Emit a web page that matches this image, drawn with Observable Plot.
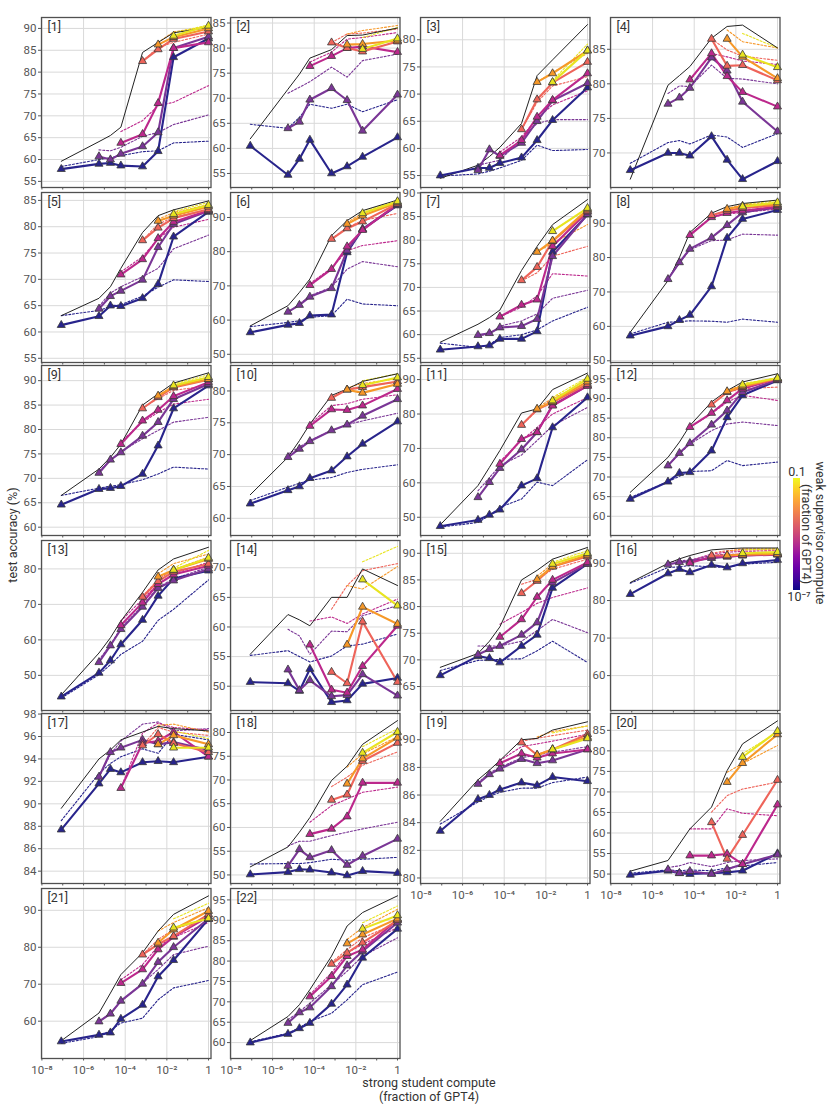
<!DOCTYPE html>
<html><head><meta charset="utf-8">
<script src="https://cdn.jsdelivr.net/npm/d3@7"></script>
<script src="https://cdn.jsdelivr.net/npm/@observablehq/plot@0.6"></script>
<style>
body{margin:0;background:#fff;}
#root{position:relative;width:831px;height:1110px;overflow:hidden;font-family:Roboto,sans-serif;background:#fff;}
.panel{position:absolute;}
.lab{position:absolute;font-size:12px;color:#333;white-space:nowrap;font-family:Roboto,sans-serif;}
</style></head><body><div id="root"></div>
<script>
// strong student compute (fraction of GPT4), read from the x positions
const studentCompute = [8.5e-8, 5.5e-6, 1.95e-5, 6.2e-5, 6.8e-4, 3.8e-3, 2.1e-2, 1];
// index of the student size used as each weak supervisor
const supervisorIndex = [0, 1, 3, 4, 5, 6];
// colours of the six weak supervisors (plasma-like, as seen in the figure)
const supervisorColors = ["#28248c", "#7a3696", "#bc288c", "#ee645a", "#f69828", "#e8e420"];
const xTickValues = [1e-8, 1e-6, 1e-4, 1e-2, 1];
const xTickLabels = ["10⁻⁸", "10⁻⁶", "10⁻⁴", "10⁻²", "1"];
const decadeTicks = [1e-8,1e-7,1e-6,1e-5,1e-4,1e-3,1e-2,1e-1,1];

// strong ceiling (black line), per panel
const ceiling = [
 [59.6,64.1,65.5,67.4,84.5,86.8,89.0,90.2],
 [61.9,71.8,74.8,78.0,79.7,82.5,82.6,84.0],
 [54.5,56.9,58.5,60.2,64.6,73.4,76.3,82.8],
 [66.2,79.8,81.2,82.5,86.6,88.3,88.5,85.2],
 [63.1,66.4,68.6,72.1,78.9,82.1,83.2,84.9],
 [58.3,64.2,68.1,72.0,84.7,89.1,92.0,95.1],
 [58.4,62.2,63.6,65.2,73.6,78.7,83.3,88.6],
 [58.3,73.3,80.0,87.3,92.9,94.8,95.7,96.7],
 [66.5,71.9,74.3,77.0,85.0,87.3,89.5,91.6],
 [63.7,69.6,72.2,74.8,79.3,80.3,81.5,82.7],
 [47.8,59.2,64.5,69.4,80.3,81.5,87.1,91.9],
 [66.1,75.0,78.9,83.1,89.1,92.0,94.2,96.3],
 [44.5,56.3,60.6,65.3,73.4,79.7,82.8,86.1],
 [55.4,62.1,61.2,60.2,65.0,65.0,69.8,67.0],
 [68.6,71.2,73.5,76.2,85.0,86.8,88.9,91.1],
 [84.8,89.9,91.1,92.0,93.5,93.8,94.0,94.0],
 [89.6,94.0,94.8,95.7,96.4,96.9,96.7,96.5],
 [51.7,55.9,59.0,62.1,69.9,72.9,77.5,82.5],
 [84.1,87.1,87.8,88.5,90.0,90.1,90.7,91.3],
 [50.7,53.3,57.3,61.0,66.3,75.2,81.7,87.3],
 [54.7,62.2,67.6,72.6,78.5,84.4,88.9,93.9],
 [60.5,66.4,69.3,73.0,81.2,88.6,91.9,96.0]
];

// weak-to-strong (solid lines with triangles): one list per supervisor, starting at the supervisor size
const w2s = [
 [[57.8,59.0,59.2,58.6,58.4,61.9,83.4,87.7],[60.7,60.0,61.3,63.0,66.2,85.5,88.1],[63.8,65.8,72.9,85.5,86.8],[82.5,85.2,87.6,89.3],[86.3,88.0,90.0],[88.3,90.6]],
 [[60.5,54.7,57.9,61.7,55.0,56.4,58.3,62.2],[64.0,65.3,69.7,72.0,69.6,63.5,70.7],[76.4,78.4,80.0,80.3,79.2],[81.1,80.0,79.3,81.3],[80.7,80.8,81.5],[79.8,81.9]],
 [[55.0,56.4,56.4,57.3,58.3,61.5,65.2,71.2],[56.0,59.8,58.6,61.0,65.0,68.8,72.0],[58.7,61.5,65.8,68.9,73.8],[63.5,69.0,72.1,75.9],[72.2,73.8,78.0],[72.2,78.0]],
 [[67.5,70.0,70.0,69.6,72.4,69.0,66.2,68.8],[77.1,78.0,79.4,83.8,81.9,77.4,73.1],[80.6,84.4,81.1,78.8,76.7],[86.5,82.6,82.7,80.5],[86.5,83.9,80.8],[84.2,82.4]],
 [[61.3,63.0,65.0,64.9,66.4,69.1,78.1,82.8],[64.4,66.8,67.8,69.9,76.1,80.5,83.0],[70.9,73.8,77.8,80.9,83.1],[77.4,79.8,81.6,83.3],[81.1,82.1,83.8],[82.4,84.1]],
 [[56.4,58.6,59.1,61.3,61.6,79.8,86.6,93.5],[62.4,64.4,66.8,69.3,80.3,86.6,93.7],[70.2,74.9,81.5,86.3,94.0],[83.7,86.8,88.8,94.0],[88.1,90.5,94.4],[91.2,94.7]],
 [[56.8,57.5,57.7,59.1,59.1,60.7,77.5,85.4],[59.9,60.3,61.5,61.8,63.3,76.6,85.5],[63.8,66.3,67.4,78.7,86.0],[71.5,74.3,79.8,86.2],[77.5,79.9,86.5],[81.9,86.8]],
 [[57.3,60.0,61.8,63.3,71.6,85.7,91.2,93.8],[73.7,78.6,82.5,85.8,89.4,93.1,94.6],[86.5,91.7,92.9,93.6,94.8],[92.3,93.6,94.4,95.2],[94.1,95.0,95.5],[94.8,96.0]],
 [[64.6,67.8,68.0,68.4,70.9,76.7,84.3,89.0],[71.1,73.8,75.3,78.7,81.5,86.2,89.3],[77.0,81.8,84.0,86.8,89.7],[84.3,86.6,88.6,90.2],[86.9,88.8,90.3],[89.0,90.7]],
 [[62.3,64.4,65.0,66.3,67.5,69.7,71.7,75.2],[69.6,70.9,72.1,73.8,74.7,76.1,78.7],[74.5,77.1,77.0,77.7,80.3],[78.9,80.2,80.6,81.5],[80.2,79.7,81.1],[80.9,82.1]],
 [[47.4,49.2,50.7,52.2,59.2,61.3,76.1,84.8],[55.8,60.2,64.3,69.7,74.7,82.6,88.2],[65.5,72.7,74.7,82.4,88.2],[76.8,81.3,83.4,88.7],[81.5,83.6,89.4],[83.9,90.2]],
 [[64.4,68.8,71.0,71.2,76.7,85.2,90.8,94.6],[72.9,76.1,78.6,83.3,86.9,91.6,94.7],[82.7,86.3,89.5,92.5,95.0],[88.4,91.6,92.9,95.0],[91.8,93.1,95.2],[93.5,95.2]],
 [[44.0,50.7,54.2,58.7,65.6,72.4,77.3,79.5],[53.7,58.4,63.0,69.3,74.6,76.7,80.0],[64.1,70.5,75.7,78.4,80.9],[72.1,76.5,79.2,81.4],[77.8,79.7,82.8],[79.7,83.1]],
 [[50.7,50.5,49.2,52.9,47.3,47.6,50.4,51.4],[52.8,49.3,51.0,48.3,48.5,52.0,48.4],[57.0,49.4,48.9,53.4,60.2],[52.4,50.5,60.9,50.7],[57.0,63.4,60.5],[68.0,63.6]],
 [[67.1,70.7,70.3,69.5,72.6,74.7,83.5,88.0],[71.0,72.0,72.6,74.7,77.0,84.5,88.0],[74.3,77.6,81.8,85.0,88.3],[82.5,84.8,87.5,89.4],[85.1,87.5,89.7],[88.0,90.0]],
 [[81.7,87.2,88.4,87.5,89.5,88.8,89.9,90.8],[89.6,90.2,90.5,91.3,91.7,92.0,92.3],[90.0,91.7,91.7,92.0,92.2],[92.0,92.0,92.4,92.6],[92.0,92.2,92.4],[92.6,92.9]],
 [[87.7,91.8,93.1,92.8,93.7,93.8,93.7,94.2],[92.4,94.6,95.0,95.7,95.3,95.5,94.8],[91.4,95.4,95.6,96.4,94.2],[95.2,96.2,95.4,94.6],[95.3,96.1,95.3],[95.0,95.0]],
 [[50.1,50.6,51.2,51.1,50.5,49.9,50.8,50.4],[51.9,55.4,53.7,55.2,52.1,54.0,57.6],[58.6,59.7,62.3,69.4,69.4],[65.8,66.9,74.0,77.8],[69.2,74.5,78.9],[75.7,80.1]],
 [[83.4,85.7,86.0,86.4,86.9,86.7,87.3,87.0],[86.8,87.5,87.9,88.6,88.3,88.5,89.3],[88.3,89.0,88.7,89.0,89.3],[89.8,88.9,89.3,90.4],[88.9,89.3,90.2],[89.3,90.1]],
 [[49.8,50.8,50.2,50.0,50.2,50.4,50.8,55.0],[51.1,50.2,50.7,50.0,51.2,52.4,54.7],[54.5,54.5,54.9,52.4,66.9],[62.6,53.7,59.5,72.9],[72.4,77.0,84.0],[78.5,84.8]],
 [[54.5,56.3,56.9,60.6,64.4,72.1,76.5,87.6],[59.9,62.0,65.5,70.1,76.0,80.0,87.7],[70.3,74.0,79.4,82.8,88.3],[78.0,80.8,83.0,88.9],[81.2,84.8,89.8],[85.3,87.8]],
 [[60.0,62.1,63.5,64.8,69.5,74.2,80.8,87.9],[64.8,67.4,68.6,73.8,78.9,82.4,89.4],[71.3,76.3,81.2,82.8,90.2],[79.3,82.0,84.5,90.0],[84.3,86.5,90.4],[87.9,91.2]]
];

// naive baseline (dotted lines)
const naive = [
 [[58.4,60.0,60.4,60.9,61.8,62.0,63.8,64.2],[62.2,62.0,62.8,65.3,66.2,68.0,70.2],[66.4,68.9,72.3,73.1,76.9],[82.5,85.7,86.8,88.7],[86.8,89.2,90.5],[89.0,90.8]],
 [[64.8,64.0,66.2,68.8,68.0,68.8,67.3,69.7],[71.0,72.2,73.3,76.2,74.2,77.5,78.8],[77.2,79.2,81.8,82.1,83.1],[81.1,82.8,83.0,83.8],[82.8,83.5,84.5],[82.1,84.1]],
 [[54.9,55.3,55.8,56.4,57.8,60.6,59.6,59.8],[56.9,57.4,57.8,61.8,64.6,65.3,65.3],[59.3,62.1,65.5,68.0,70.6],[63.5,68.5,71.5,73.2],[72.2,74.0,77.5],[72.5,79.2]],
 [[68.5,71.5,71.8,71.3,72.6,72.3,70.8,72.8],[78.6,79.7,79.6,82.7,80.8,80.7,80.0],[80.5,84.4,83.9,83.3,82.8],[86.5,84.9,84.0,83.4],[87.8,86.1,85.2],[87.3,85.2]],
 [[63.1,64.1,64.8,65.2,66.8,68.5,69.9,69.6],[64.9,67.4,68.6,70.5,72.1,75.8,78.4],[71.4,74.3,77.7,79.9,81.4],[77.4,80.5,81.8,83.3],[81.4,82.7,84.2],[82.9,84.6]],
 [[58.1,59.3,59.8,60.8,61.3,66.1,64.7,64.2],[62.2,64.7,67.1,69.6,74.9,77.1,75.6],[70.7,75.2,80.3,81.8,83.2],[83.7,87.1,89.1,91.2],[88.6,91.2,94.0],[91.8,94.7]],
 [[58.2,57.3,57.9,59.4,60.0,61.0,62.9,65.8],[59.8,60.1,61.8,62.9,64.4,67.7,69.4],[63.8,65.8,68.2,72.9,72.4],[71.4,73.1,76.6,78.7],[77.5,79.4,83.3],[81.9,86.8]],
 [[57.8,61.2,61.4,61.6,61.5,61.2,62.1,61.2],[74.0,78.3,82.3,84.9,85.1,86.8,86.5],[86.8,91.7,92.6,93.1,94.1],[92.3,93.6,94.3,95.0],[94.3,95.3,96.0],[95.5,96.5]],
 [[66.5,68.0,68.4,68.7,69.7,70.9,72.3,71.9],[71.6,73.6,75.5,78.1,79.8,81.5,82.5],[77.5,81.5,83.5,85.2,86.2],[84.5,86.3,88.0,89.0],[87.0,88.9,90.3],[89.3,91.2]],
 [[62.8,64.9,65.5,66.0,66.4,67.2,67.7,68.4],[70.1,71.2,72.2,73.8,74.7,75.3,76.5],[74.8,77.7,78.0,78.7,79.4],[79.0,80.3,80.7,81.4],[80.5,81.2,81.9],[81.6,82.7]],
 [[47.1,48.5,50.5,52.9,55.3,60.2,59.2,66.7],[57.7,61.5,65.0,68.1,72.3,76.6,81.9],[66.2,72.3,76.1,80.0,84.8],[76.8,81.0,84.4,87.8],[81.8,84.6,89.2],[84.8,90.7]],
 [[64.8,68.8,70.2,71.4,71.6,74.2,72.9,73.8],[72.9,75.9,78.4,81.8,83.5,84.0,83.1],[82.7,86.1,89.1,90.8,89.5],[88.4,91.6,92.5,92.9],[92.0,93.5,94.6],[93.8,95.2]],
 [[43.6,50.2,53.0,55.9,59.6,65.5,68.6,76.9],[54.4,58.6,63.4,69.6,74.8,77.2,80.5],[65.3,71.5,75.7,78.6,81.9],[72.3,77.0,79.8,83.3],[78.6,81.5,84.2],[80.2,85.2]],
 [[55.2,56.0,55.0,54.1,55.1,56.8,57.1,58.8],[59.6,58.5,55.4,59.3,59.2,61.9,63.6],[61.0,61.7,60.6,62.2,64.7],[63.0,67.0,69.5,70.7],[67.0,66.4,70.2],[71.0,73.6]],
 [[68.0,69.9,70.0,70.1,70.2,71.7,73.5,69.5],[72.6,72.6,72.6,73.5,75.5,77.6,75.1],[76.7,78.9,80.6,81.7,83.5],[84.2,85.1,87.0,88.9],[85.7,88.0,89.9],[88.3,90.5]],
 [[84.6,88.8,89.0,89.3,89.0,88.8,89.7,90.2],[90.2,90.6,90.8,92.0,92.4,92.2,92.4],[90.6,92.4,92.9,93.1,93.3],[92.6,93.3,93.5,93.5],[93.1,93.8,93.8],[93.5,93.8]],
 [[88.5,92.7,93.6,94.2,94.9,94.5,96.2,95.7],[92.4,94.4,95.6,97.1,97.3,96.5,96.7],[91.4,96.3,97.2,96.8,96.6],[95.2,96.8,96.4,96.1],[97.0,97.1,96.4],[96.5,95.8]],
 [[52.3,52.4,52.4,52.6,53.3,53.1,53.3,53.7],[56.1,57.1,57.1,58.3,59.0,59.7,61.1],[61.1,64.6,66.0,67.4,68.5],[68.6,70.6,73.1,75.9],[72.7,75.5,79.1],[77.0,80.8]],
 [[83.9,85.5,85.9,86.2,86.5,86.5,86.9,87.3],[86.9,87.6,88.0,88.7,88.9,89.1,89.5],[88.5,89.5,89.7,89.9,90.4],[89.9,90.1,90.3,90.7],[90.2,90.6,91.0],[90.5,91.0]],
 [[50.2,51.0,50.8,51.0,50.8,51.5,52.0,52.8],[51.6,52.0,52.8,51.8,52.8,53.3,53.7],[61.0,61.0,65.9,64.8,64.2],[65.1,69.1,70.7,72.4],[74.8,76.9,81.3],[79.3,84.6]],
 [[54.0,55.8,57.5,59.5,60.8,65.8,69.0,71.0],[59.9,62.2,65.3,70.3,74.0,78.0,80.3],[71.2,75.3,80.3,82.6,86.7],[78.0,82.1,84.8,88.0],[84.4,86.7,90.7],[87.7,91.9]],
 [[60.2,62.3,63.7,65.2,67.2,70.5,74.2,77.3],[65.6,67.6,69.7,74.2,77.5,81.2,85.7],[71.8,77.1,82.0,84.1,88.2],[79.7,82.8,85.7,89.4],[85.3,88.2,92.7],[89.4,93.5]]
];

// y-axis extents and tick steps
const yDomain = [[53.6,92.5],[52.2,86.1],[52.8,84.1],[65.0,89.6],[54.2,86.5],[47.6,97.3],[54.1,90.1],[49.5,98.9],
 [58.3,93.1],[57.3,84.0],[44.7,94.1],[55.1,98.4],[40.1,88.0],[45.9,74.6],[60.5,92.4],[50.7,96.0],
 [82.9,98.05],[48.2,84.0],[79.6,91.9],[47.7,89.1],[49.9,95.9],[56.1,97.8]];
const yTickSpec = [[55,90,5],[55,85,5],[55,80,5],[70,85,5],[55,85,5],[50,90,10],[55,90,5],[50,90,10],
 [60,90,5],[60,80,5],[50,90,10],[60,95,5],[50,80,10],[50,70,5],[65,90,5],[60,90,10],
 [84,98,2],[50,80,5],[80,90,2],[50,85,5],[60,90,10],[60,95,5]];

const colLeft = [40.7, 230, 420, 609.5];
const rowTop = [16.7, 191.7, 365, 540, 713.3, 887.7];
const W = 169.5, H = 170, mL = 34, mR = 6, mT = 4, mB = 24;
const xDomain = [Math.pow(10,-8.02), Math.pow(10,0.12)];
const supervisorCompute = supervisorIndex.map(i => studentCompute[i]);
const colorOpt = {type: "ordinal", domain: supervisorCompute, range: supervisorColors};
const root = document.getElementById("root");

for (let p = 0; p < 22; p++) {
  const col = p % 4, row = Math.floor(p / 4);
  const labeledX = p >= 18;
  const ceil = studentCompute.map((x, i) => ({x, y: ceiling[p][i]}));
  const solid = [], dotted = [];
  supervisorIndex.forEach((si, k) => {
    w2s[p][k].forEach((v, j) => solid.push({x: studentCompute[si + j], y: v, sup: supervisorCompute[k], k}));
    naive[p][k].forEach((v, j) => dotted.push({x: studentCompute[si + j], y: v, sup: supervisorCompute[k], k}));
  });
  const [t0, t1, ts] = yTickSpec[p];
  const yt = d3.range(t0, t1 + 1e-6, ts);
  const marks = [
    Plot.gridY(yt, {stroke: "#d9d9d9", strokeOpacity: 1}),
    Plot.gridX(xTickValues, {stroke: "#d9d9d9", strokeOpacity: 1}),
    Plot.line(dotted, {x: "x", y: "y", z: "k", stroke: "sup", strokeWidth: 1.1, strokeDasharray: "2,1.8"}),
    Plot.line(ceil, {x: "x", y: "y", stroke: "#222", strokeWidth: 1}),
    Plot.line(solid, {x: "x", y: "y", z: "k", stroke: "sup", strokeWidth: 2.1}),
    Plot.dot(solid, {x: "x", y: "y", fill: "sup", symbol: "triangle", r: 3, stroke: "#3a3a3a", strokeWidth: 0.8}),
    Plot.frame({stroke: "#505050", strokeWidth: 1.3}),
    Plot.axisY(yt, {tickSize: 3, tickPadding: 2, fontSize: 11.5, label: null}),
    Plot.axisX(decadeTicks, {tickSize: 2.5, tickPadding: 2, tickFormat: () => "", label: null}),
    Plot.text([`[${p + 1}]`], {frameAnchor: "top-left", dx: 6, dy: 5, textAnchor: "start", lineAnchor: "top", fontSize: 12.5, fill: "#333"})
  ];
  if (labeledX) {
    marks.push(Plot.axisX(xTickValues, {tickSize: 0, tickPadding: 7, fontSize: 11.5, label: null,
      tickFormat: d => xTickLabels[xTickValues.findIndex(v => Math.abs(Math.log10(v) - Math.log10(d)) < 1e-6)]}));
  }
  const svg = Plot.plot({
    width: mL + W + mR, height: mT + H + mB,
    marginLeft: mL, marginRight: mR, marginTop: mT, marginBottom: mB,
    style: {background: "transparent", fontFamily: "Roboto, sans-serif", color: "#555", overflow: "visible"},
    x: {type: "log", domain: xDomain, axis: null},
    y: {domain: yDomain[p], axis: null},
    color: colorOpt,
    marks
  });
  const wrap = document.createElement("div");
  wrap.className = "panel";
  wrap.style.left = (colLeft[col] - mL) + "px";
  wrap.style.top = (rowTop[row] - mT) + "px";
  wrap.appendChild(svg);
  root.appendChild(wrap);
}

// colour bar legend (weak supervisor compute)
const stops = d3.range(0, 1.0001, 0.1).map(t => `${d3.interpolatePlasma(t)} ${(t*100).toFixed(0)}%`).join(",");
const bar = document.createElement("div");
bar.style.cssText = `position:absolute;left:793px;top:478px;width:6.5px;height:112px;background:linear-gradient(to top,${stops});`;
root.appendChild(bar);

function addLabel(text, x, y, rot, size) {
  const d = document.createElement("div");
  d.className = "lab";
  d.textContent = text;
  d.style.left = x + "px"; d.style.top = y + "px";
  d.style.fontSize = (size || 12) + "px";
  d.style.transform = `translate(-50%,-50%) rotate(${rot || 0}deg)`;
  root.appendChild(d);
}
addLabel("0.1", 797, 471, 0, 12.5);
addLabel("10⁻⁷", 799, 596, 0, 12.5);
addLabel("weak supervisor compute", 820, 533, 90, 12.5);
addLabel("(fraction of GPT4)", 806, 534, 90, 12.5);
addLabel("test accuracy (%)", 12, 535, -90, 12.5);
addLabel("strong student compute", 429, 1082, 0, 12.5);
addLabel("(fraction of GPT4)", 429, 1096, 0, 12.5);
</script></body></html>
